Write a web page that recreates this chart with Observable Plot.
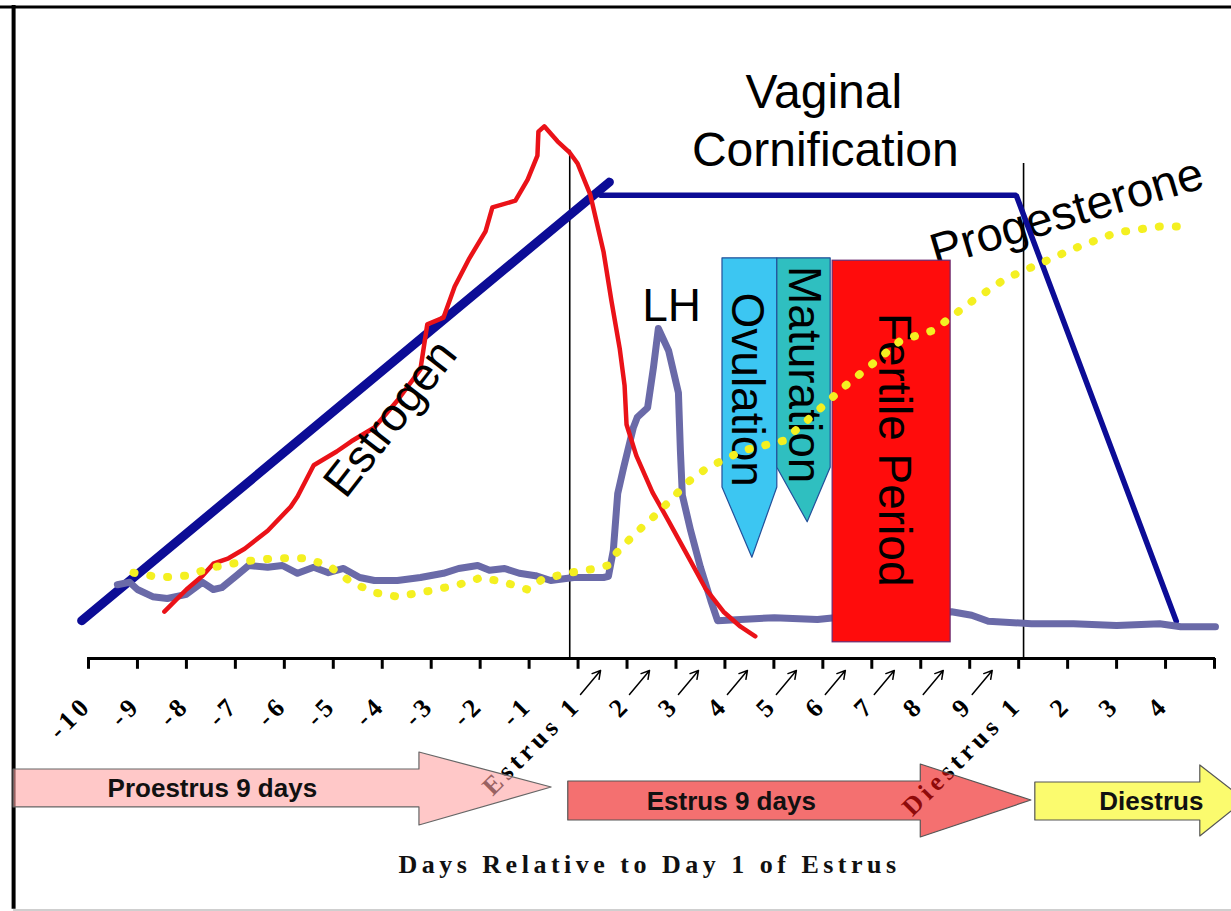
<!DOCTYPE html>
<html><head><meta charset="utf-8">
<script src="https://cdn.jsdelivr.net/npm/d3@7"></script>
<script src="https://cdn.jsdelivr.net/npm/@observablehq/plot@0.6"></script>
<style>html,body{margin:0;padding:0;background:#fff;overflow:hidden}</style>
</head><body><div id="chart"></div>
<script>
// x = days since Day 1 of estrus (tick index - 10); y = relative hormone level (0..100)
const tickLabels = ["-10","-9","-8","-7","-6","-5","-4","-3","-2","-1",
  "Estrus 1","2","3","4","5","6","7","8","9","Diestrus 1","2","3","4"];
const tickDays = d3.range(-10, 14);
const estrusArrowDays = d3.range(0, 9);

const cornificationRise = [[-10.14, 6.3], [0.64, 79.4]];
const cornificationPlateau = [[0.46, 77.2], [8.95, 77.2], [12.22, 6.2]];

const estrogen = [[-8.45,7.8],[-8.00,11.5],[-7.67,13.8],[-7.45,15.8],[-7.14,16.7],[-6.81,18.3],[-6.34,21.3],[-5.87,25.3],[-5.73,27.0],[-5.40,32.2],[-4.93,34.5],[-4.63,36.2],[-4.16,38.5],[-3.69,43.0],[-3.22,48.2],[-3.08,55.7],[-2.75,56.8],[-2.52,62.0],[-2.22,66.7],[-1.89,71.2],[-1.75,75.2],[-1.28,76.3],[-1.03,79.8],[-0.83,83.8],[-0.81,87.8],[-0.69,88.7],[-0.42,86.2],[-0.17,84.3],[-0.01,82.5],[0.25,77.3],[0.52,67.8],[0.68,59.7],[0.85,51.7],[0.95,45.5],[0.99,39.0],[1.19,33.8],[1.52,27.7],[1.83,23.2],[2.26,16.8],[2.60,11.7],[2.97,7.8],[3.32,5.3],[3.62,3.7]];

const lh = [[-9.41,12.3],[-9.16,12.7],[-9.00,11.5],[-8.69,10.3],[-8.39,10.0],[-8.00,10.7],[-7.67,12.7],[-7.45,11.5],[-7.28,11.8],[-6.98,13.8],[-6.73,15.5],[-6.34,15.2],[-6.04,15.5],[-5.73,14.2],[-5.40,15.2],[-5.10,14.3],[-4.79,15.0],[-4.46,13.5],[-4.16,13.0],[-3.69,13.0],[-3.22,13.5],[-2.75,14.2],[-2.44,15.0],[-2.05,15.5],[-1.81,14.7],[-1.50,15.0],[-1.20,14.2],[-0.87,13.8],[-0.56,13.0],[-0.09,13.5],[0.52,13.5],[0.62,13.7],[0.72,18.0],[0.81,27.5],[0.93,31.8],[1.13,38.5],[1.21,40.2],[1.42,41.8],[1.54,48.5],[1.64,55.0],[1.85,51.3],[2.05,44.3],[2.09,34.7],[2.13,27.2],[2.30,21.3],[2.50,15.2],[2.71,9.7],[2.85,6.3],[3.32,6.5],[4.01,6.8],[4.89,6.5],[5.24,6.8],[6.59,7.3],[7.63,7.8],[8.04,7.2],[8.38,6.2],[9.26,5.8],[10.12,5.8],[11.00,5.5],[11.88,5.8],[12.31,5.3],[13.02,5.3]];

const progesterone = [[-9.08,14.3],[-8.53,13.5],[-8.00,13.8],[-7.45,15.2],[-6.81,16.2],[-6.20,16.7],[-5.57,16.7],[-5.10,15.5],[-4.63,12.7],[-4.16,11.0],[-3.69,10.3],[-3.08,11.2],[-2.44,12.3],[-1.97,13.5],[-1.50,12.7],[-1.03,11.5],[-0.73,13.2],[-0.17,14.3],[0.38,15.0],[0.60,15.5],[0.68,16.7],[1.15,20.7],[1.62,24.2],[2.26,29.5],[2.64,31.8],[3.38,34.7],[4.20,36.3],[4.75,40.2],[5.42,45.2],[6.03,49.2],[6.59,53.0],[7.26,54.7],[8.04,59.5],[8.73,63.3],[9.43,65.8],[10.12,68.3],[11.00,71.0],[11.88,72.0],[12.49,72.0]];

// [level, left day, right day]
const ovulationShape = [[66.7, 2.95, 4.07], [28.5, 2.95, 4.07], [16.8, 3.56, 3.56]];
const maturationShape = [[66.7, 4.07, 5.16], [31.8, 4.07, 5.16], [22.7, 4.69, 4.69]];
const fertilePeriod = [{x1: 5.20, x2: 7.61, y1: 2.7, y2: 66.3}];

const phaseLines = [{t: -0.17, top: 84.7}, {t: 9.10, top: 82.5}];

// [day, lower, upper]
const proestrusArrow = [[-11.53,-18.5,-24.83],[-3.24,-18.5,-24.83],[-3.24,-15.67,-27.83],[-0.54,-21.5,-21.5]];
const estrusArrow = [[-0.20,-20.5,-27.0],[7.0,-20.5,-27.0],[7.0,-17.67,-29.83],[9.26,-23.67,-23.67]];
const diestrusArrow = [[9.34,-20.67,-27.0],[12.71,-20.67,-27.0],[12.71,-17.83,-29.67],[13.63,-23.67,-23.67]];
const phaseLabels = [
  {t: -7.47, y: -21.67, text: "Proestrus 9 days"},
  {t: 3.13, y: -23.83, text: "Estrus 9 days"},
  {t: 11.71, y: -23.83, text: "Diestrus"}
];
const axisTitle = [{t: 1.46, y: -34.3, text: "Days Relative to Day 1 of Estrus"}];

const annotations = [
  {t: 5.02, y: 94.3, text: "Vaginal", rotate: 0, size: 48},
  {t: 5.05, y: 84.7, text: "Cornification", rotate: 0, size: 48},
  {t: 1.91, y: 58.7, text: "LH", rotate: 0, size: 46},
  {t: -3.83, y: 40.0, text: "Estrogen", rotate: -52, size: 46}
];
const progLabel = [{t: 9.98, y: 74.3, text: "Progesterone"}];
const boxLabels = [
  {t: 3.44, y: 44.8, text: "Ovulation"},
  {t: 4.60, y: 47.3, text: "Maturation"},
  {t: 6.44, y: 34.8, text: "Fertile Period"}
];

const tickData = tickLabels.map((label, i) => ({label, t: i - 10}));
const P = d => d[0], L = d => d[1];

const chart = Plot.plot({
  width: 1231, height: 911, margin: 0,
  style: {background: "#fff", fontFamily: "Liberation Sans", overflow: "visible"},
  x: {domain: [-10, 13], range: [88, 1214], axis: null},
  y: {domain: [-42.17, 109.67], range: [911, 0], axis: null},
  marks: [
    // frame
    Plot.ruleY([108.6], {stroke: "#000", strokeWidth: 3}),
    Plot.ruleX([-11.53], {y1: -41.8, y2: 108.85, stroke: "#000", strokeWidth: 4}),
    Plot.ruleY([-41.9], {x1: -11.53, x2: 13.5, stroke: "#cfcfcf", strokeWidth: 2}),
    // axis
    Plot.ruleY([0], {x1: -10.02, x2: 13.02, stroke: "#000", strokeWidth: 3}),
    Plot.ruleX(tickDays, {y1: 0, y2: -1.8, stroke: "#000", strokeWidth: 3}),
    Plot.text(tickData, {x: d => d.t - 0.02, y: () => -7.0, text: "label", rotate: -45,
      textAnchor: "end", fontSize: 26, fontWeight: "bold", fontFamily: "Liberation Serif", fill: "#000"}),
    Plot.arrow(estrusArrowDays, {x1: d => d + 0.05, y1: () => -6.0, x2: d => d + 0.46, y2: () => -2.0,
      stroke: "#000", strokeWidth: 1.5, headLength: 9}),
    // phase arrows
    Plot.areaY(proestrusArrow, {x: P, y1: d => d[1], y2: d => d[2], fill: "#ffa3a3", fillOpacity: 0.6, stroke: "#666", strokeWidth: 1.2}),
    Plot.areaY(estrusArrow, {x: P, y1: d => d[1], y2: d => d[2], fill: "#ed1111", fillOpacity: 0.6, stroke: "#555", strokeWidth: 1.2}),
    Plot.areaY(diestrusArrow, {x: P, y1: d => d[1], y2: d => d[2], fill: "#fbfb6e", stroke: "#555", strokeWidth: 1.2}),
    Plot.text(phaseLabels, {x: "t", y: "y", text: "text", fontSize: 26, fontWeight: "bold", fill: "#111"}),
    Plot.text(axisTitle, {x: "t", y: "y", text: "text", fontSize: 26, fontWeight: "bold", fontFamily: "Liberation Serif", fill: "#111"}),
    // phase boundary lines
    Plot.ruleX(phaseLines, {x: "t", y1: () => 0, y2: "top", stroke: "#000", strokeWidth: 1.6}),
    Plot.text(progLabel, {x: "t", y: "y", text: "text", rotate: -16.5, fontSize: 47, fill: "#000"}),
    // vaginal cornification
    Plot.line(cornificationRise, {x: P, y: L, stroke: "#0c0c96", strokeWidth: 9}),
    Plot.line(cornificationPlateau, {x: P, y: L, stroke: "#0c0c96", strokeWidth: 5.5, strokeLinejoin: "miter"}),
    // LH and estrogen
    Plot.line(lh, {x: P, y: L, stroke: "#6a6aa8", strokeWidth: 7, strokeLinejoin: "round"}),
    Plot.line(estrogen, {x: P, y: L, stroke: "#ea1218", strokeWidth: 4.5, strokeLinejoin: "round"}),
    // boxes
    Plot.rect(fertilePeriod, {x1: "x1", x2: "x2", y1: "y1", y2: "y2", fill: "#ff0c0c", stroke: "#6a2a70", strokeWidth: 1.2}),
    Plot.areaX(ovulationShape, {y: d => d[0], x1: d => d[1], x2: d => d[2], fill: "#3cc6f2", stroke: "#23509a", strokeWidth: 1.2}),
    Plot.areaX(maturationShape, {y: d => d[0], x1: d => d[1], x2: d => d[2], fill: "#2fbfc0", stroke: "#23509a", strokeWidth: 1.2}),
    Plot.text(boxLabels, {x: "t", y: "y", text: "text", rotate: 90, fontSize: 46, fill: "#000"}),
    Plot.text(annotations, {x: "t", y: "y", text: "text", rotate: "rotate", fontSize: "size", fill: "#000"}),
    // progesterone
    Plot.line(progesterone, {x: P, y: L, stroke: "#f4f021", strokeWidth: 8, strokeDasharray: "1,16", strokeLinecap: "round"})
  ]
});
document.getElementById("chart").appendChild(chart);
chart.querySelectorAll('g[font-family="Liberation Serif"]').forEach(g => g.setAttribute("letter-spacing", "4.5"));
</script>
</body></html>
